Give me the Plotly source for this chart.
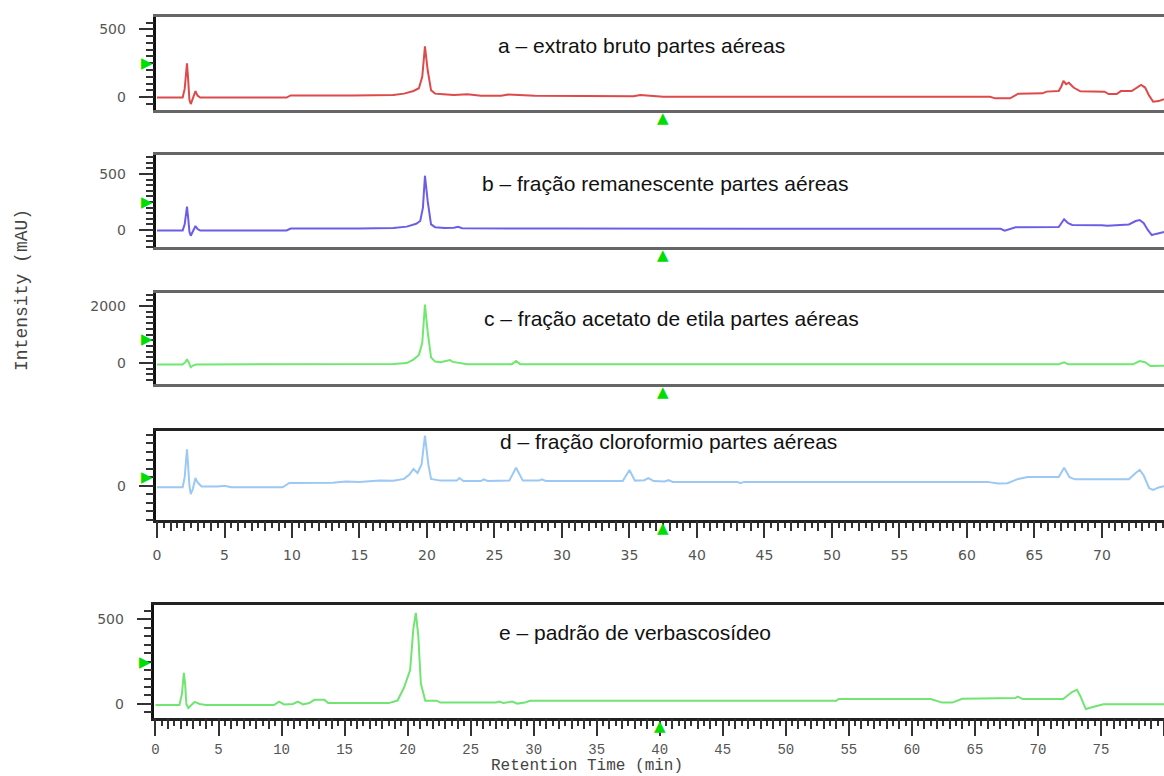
import plotly.graph_objects as go

# HPLC chromatograms: retention time (min) vs intensity (mAU), one (time, value) list per sample
trace_a = [(0, -4), (1.9, -4), (2.05, 60), (2.15, 180), (2.22, 250), (2.3, 140), (2.4, -20), (2.5, -52),
           (2.65, -15), (2.85, 44), (3.0, 10), (3.2, -4), (9.6, -4), (9.9, 12), (14.5, 12), (17.5, 15),
           (18.3, 25), (19.0, 45), (19.4, 65), (19.65, 150), (19.85, 375), (20.05, 200), (20.3, 50),
           (20.6, 25), (21.2, 20), (22.0, 15), (23.0, 20), (24.0, 10), (25.5, 10), (26.0, 18), (28.0, 10),
           (32.0, 5), (35.3, 5), (35.8, 15), (37.0, 5), (37.5, 2), (45.0, 2), (55.0, 2), (61.7, 2),
           (62.1, -10), (63.2, -10), (63.8, 25), (65.6, 27), (65.9, 40), (66.8, 44), (67.0, 80),
           (67.15, 120), (67.35, 95), (67.55, 106), (67.9, 70), (68.4, 42), (70.2, 39), (70.5, 22),
           (71.1, 22), (71.4, 44), (72.2, 44), (72.6, 70), (72.9, 89), (73.2, 70), (73.5, 10),
           (73.8, -35), (74.2, -30), (74.6, -17)]

trace_b = [(0, -4), (1.9, -4), (2.05, 50), (2.15, 160), (2.22, 208), (2.3, 120), (2.4, -15), (2.5, -51),
           (2.65, -15), (2.85, 36), (3.0, 8), (3.2, -4), (9.6, -4), (9.9, 13), (15.0, 13), (17.5, 18),
           (18.5, 30), (19.2, 55), (19.5, 80), (19.7, 200), (19.85, 485), (20.05, 260), (20.3, 50),
           (20.6, 25), (21.3, 18), (22.0, 20), (22.3, 28), (22.6, 15), (30.0, 13), (40.0, 13), (50.0, 13),
           (60.0, 13), (62.5, 10), (62.8, -6), (63.2, 10), (63.6, 24), (66.8, 27), (67.0, 60), (67.2, 96),
           (67.5, 60), (67.8, 45), (70.0, 42), (70.4, 38), (72.0, 50), (72.5, 80), (72.8, 89), (73.1, 60),
           (73.4, 0), (73.7, -45), (74.0, -35), (74.6, -18)]

trace_c = [(0, -50), (1.9, -50), (2.1, 30), (2.22, 130), (2.35, 20), (2.5, -150), (2.7, -80), (2.9, -55),
           (3.2, -50), (9.5, -50), (9.8, -25), (10.2, -50), (10.6, -40), (12.0, -40), (17.5, -35),
           (18.5, 0), (19.0, 120), (19.4, 280), (19.65, 700), (19.85, 2050), (20.05, 1100), (20.3, 200),
           (20.6, 50), (21.0, 30), (21.5, 80), (21.7, 105), (21.9, 40), (22.3, 20), (23.0, -40),
           (26.3, -40), (26.6, 70), (26.9, -40), (30.0, -45), (50.0, -45), (66.8, -45), (67.2, 25),
           (67.5, -45), (72.3, -45), (72.8, 70), (73.2, 30), (73.6, -105), (74.6, -100)]

trace_d = [(0, -19), (1.9, -19), (2.05, 100), (2.15, 330), (2.22, 428), (2.3, 250), (2.4, 0), (2.5, -98),
           (2.65, -40), (2.85, 90), (3.0, 40), (3.3, -10), (4.5, -10), (5.0, 0), (5.5, -19), (9.3, -19),
           (9.8, 32), (13.0, 35), (14.0, 50), (15.0, 45), (16.5, 60), (17.5, 58), (18.3, 80), (18.7, 130),
           (19.0, 196), (19.3, 150), (19.6, 250), (19.85, 590), (20.1, 250), (20.3, 80), (21.0, 60),
           (22.2, 60), (22.4, 90), (22.7, 55), (24.0, 55), (24.2, 75), (24.5, 55), (26.1, 60), (26.6, 212),
           (27.1, 60), (28.3, 60), (28.5, 75), (28.8, 55), (34.5, 55), (35.0, 185), (35.4, 60), (36.1, 65),
           (36.4, 90), (36.8, 55), (37.6, 50), (37.9, 65), (38.2, 45), (43.0, 45), (43.2, 30), (43.5, 45),
           (61.5, 45), (62.3, 25), (63.0, 30), (63.8, 80), (64.5, 102), (66.8, 102), (67.2, 212),
           (67.6, 100), (68.0, 75), (72.0, 75), (72.5, 150), (72.8, 185), (73.1, 120), (73.5, -30),
           (73.8, -50), (74.2, -20), (74.6, -5)]

trace_e = [(0, -6), (1.9, -6), (2.1, 60), (2.25, 183), (2.35, 120), (2.45, 0), (2.6, -24), (2.8, -10),
           (3.1, 12), (3.5, 0), (4.0, -6), (9.4, -6), (9.8, 14), (10.2, -3), (10.9, 0), (11.3, 14),
           (11.7, -3), (12.2, 5), (12.6, 24), (13.4, 24), (13.7, 5), (18.5, 5), (19.2, 20), (19.7, 94),
           (20.2, 200), (20.45, 440), (20.65, 537), (20.85, 400), (21.05, 120), (21.4, 19), (22.3, 19),
           (22.6, 8), (27.0, 8), (27.3, 14), (27.6, 5), (28.3, 14), (28.7, 2), (29.3, 8), (29.7, 19),
           (54.0, 19), (54.2, 29), (61.5, 29), (62.4, 8), (63.2, 8), (64.0, 30), (68.2, 35), (68.4, 43),
           (68.8, 29), (72.0, 29), (72.7, 70), (73.1, 83), (73.4, 40), (73.8, -30), (74.5, -15),
           (75.2, -2), (80.0, -2)]

panel_titles = ["a – extrato bruto partes aéreas",
                "b – fração remanescente partes aéreas",
                "c – fração acetato de etila partes aéreas",
                "d – fração cloroformio partes aéreas",
                "e – padrão de verbascosídeo"]
line_colors = ["#de4a4a", "#6b5de8", "#6fe86f", "#9cc8f4", "#72e472"]

# y tick labels and minor tick spacing per panel
y_tick_values = [[0, 500], [0, 500], [0, 2000], [0], [0, 500]]
y_minor_step = [50, 50, 200, 100, 50]

# green cursor markers: level on the intensity axis, time on the retention axis
cursor_level = [252, 254, 842, 106, 250]
cursor_time = [37.5, 37.5, 37.5, 37.5, 40.0]

W, H = 1164, 776
# vertical placement (pixel top / bottom of each plotting frame)
frame_px = [(17, 110), (155, 247), (292.7, 384), (431, 520), (605, 718)]
y_ranges = [[-96, 592], [-152, 670], [-737, 2470], [-403, 643], [-83, 584]]
x_range_top = [-0.04, 74.6]
x_range_bottom = [-0.08, 80.0]
title_px = [(494, 45), (478, 183), (480, 318), (496, 441), (495, 632)]

traces = [trace_a, trace_b, trace_c, trace_d, trace_e]

fig = go.Figure()
tick_font = dict(family="DejaVu Sans, Verdana, sans-serif", size=14, color="#555555")
mono_font = dict(family="Liberation Mono, Courier New, monospace", size=14, color="#555555")
cursor_font = dict(family="DejaVu Sans, sans-serif", size=15, color="#00dd00")

for i, tr in enumerate(traces):
    n = i + 1
    xa = "x" if n == 1 else f"x{n}"
    ya = "y" if n == 1 else f"y{n}"
    t, v = zip(*tr)
    fig.add_trace(go.Scatter(x=list(t), y=list(v), mode="lines", xaxis=xa, yaxis=ya,
                             line=dict(color=line_colors[i], width=2), hoverinfo="skip",
                             showlegend=False))
    xr = x_range_bottom if n == 5 else x_range_top
    yr = y_ranges[i]

    # cursor triangles sitting just outside the frame (anchored on the frame edge, nudged out)
    fig.add_annotation(text="▶", xref=xa, yref=ya, x=xr[0], y=cursor_level[i],
                       xshift=-9, showarrow=False, xanchor="center", yanchor="middle",
                       font=cursor_font)
    fig.add_annotation(text="▲", xref=xa, yref=ya, x=cursor_time[i], y=yr[0],
                       yshift=-8, showarrow=False,
                       xanchor="center", yanchor="middle", font=cursor_font)

    top_px, bot_px = frame_px[i]
    y_dom = [1 - bot_px / H, 1 - top_px / H]
    x_dom = [151 / W, 1] if n == 5 else [153 / W, 1]
    has_x_ticks = n in (4, 5)

    xaxis = dict(domain=x_dom, range=xr, anchor=ya, showgrid=False, zeroline=False,
                 showline=True, mirror=True, linewidth=3,
                 linecolor="#222222" if has_x_ticks else "#666666",
                 fixedrange=True)
    if has_x_ticks:
        xaxis.update(ticks="outside", tickmode="linear", tick0=0, dtick=5, ticklen=15, tickwidth=2,
                     tickcolor="#333333", showticklabels=True,
                     ticklabelstandoff=1 if n == 5 else 5,
                     tickfont=mono_font if n == 5 else tick_font,
                     minor=dict(ticks="outside", dtick=0.5, tick0=0, ticklen=5, tickwidth=1.5,
                                tickcolor="#333333"))
    else:
        xaxis.update(ticks="", showticklabels=False)
    yaxis = dict(domain=y_dom, range=yr, anchor=xa, showgrid=False, zeroline=False,
                 showline=True, mirror=False, linewidth=2.5, linecolor="#111111",
                 ticks="outside", tickvals=y_tick_values[i], ticklen=15, tickwidth=2,
                 tickcolor="#333333", tickfont=tick_font, ticklabelstandoff=10,
                 minor=dict(ticks="outside", dtick=y_minor_step[i], tick0=0, ticklen=8,
                            tickwidth=1.5, tickcolor="#333333"),
                 fixedrange=True)
    fig.layout[("xaxis" if n == 1 else f"xaxis{n}")] = xaxis
    fig.layout[("yaxis" if n == 1 else f"yaxis{n}")] = yaxis

    fig.add_annotation(text=panel_titles[i], xref="paper", yref="paper",
                       x=title_px[i][0] / W, y=1 - title_px[i][1] / H, xanchor="left",
                       yanchor="middle", showarrow=False,
                       font=dict(family="Liberation Sans Narrow, Arial Narrow, Liberation Sans, Arial",
                                 size=21, color="#111111"))

# whole-minute ticks of medium length on the two time axes
for n, base, xr in ((6, "x4", x_range_top), (7, "x5", x_range_bottom)):
    anchor = "y4" if base == "x4" else "y5"
    fig.layout[f"xaxis{n}"] = dict(overlaying=base, anchor=anchor, range=xr, side="bottom",
                                   tickmode="linear", tick0=0, dtick=1, ticks="outside", ticklen=10,
                                   tickwidth=1.5, tickcolor="#333333", showticklabels=False,
                                   showgrid=False, zeroline=False, showline=False, fixedrange=True)
    fig.add_trace(go.Scatter(x=[], y=[], xaxis=f"x{n}", yaxis=anchor, showlegend=False))

fig.add_annotation(text="Intensity (mAU)", xref="paper", yref="paper", x=18 / W, y=1 - 290 / H,
                   textangle=-90, showarrow=False, xanchor="center", yanchor="middle",
                   font=dict(family="Liberation Mono, Courier New, monospace", size=18, color="#444444"))
fig.add_annotation(text="Retention Time (min)", xref="paper", yref="paper", x=585 / W, y=1 - 766 / H,
                   showarrow=False, xanchor="center", yanchor="middle",
                   font=dict(family="Liberation Mono, Courier New, monospace", size=16, color="#444444"))

fig.update_layout(width=W, height=H, margin=dict(l=0, r=0, t=0, b=0),
                  paper_bgcolor="white", plot_bgcolor="white", showlegend=False)

fig.write_html("out.html")
